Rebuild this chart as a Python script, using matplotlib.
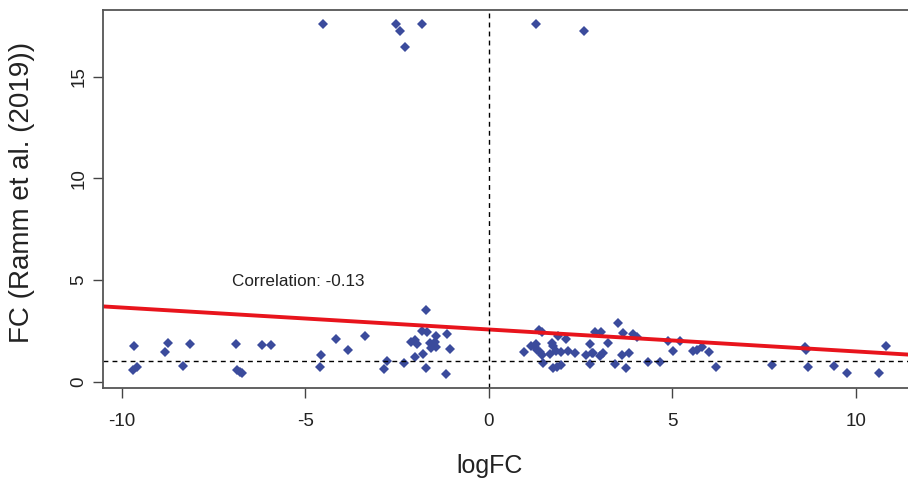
import numpy as np
import matplotlib
matplotlib.use("Agg")
import matplotlib.pyplot as plt

# values
log_fc = [
    -9.67, -9.69, -9.58, -8.74, -8.81, -8.33, -8.15, -6.89, -6.87, -6.78,
    -6.72, -6.19, -5.92, -4.60, -4.58, -4.15, -3.83, -3.36, -2.85, -2.77,
    -2.31, -2.13, -2.02, -1.95, -2.02, -1.80, -1.83, -1.68, -1.72, -1.70,
    -1.61, -1.47, -1.43, -1.56, -1.44, -1.13, -1.05, -1.16,
    0.96, 1.16, 1.25, 1.32, 1.39, 1.46, 1.30, 1.37, 1.44, 1.48,
    1.71, 1.75, 1.66, 1.84, 1.98, 2.16, 2.34, 1.89, 2.10, 1.74,
    1.85, 1.96, 2.66, 2.75, 2.80, 2.75, 2.89, 3.07, 2.84, 3.11,
    3.02, 3.25, 3.51, 3.43, 3.66, 3.62, 3.75, 3.82, 3.92, 4.03,
    4.34, 4.66, 4.89, 5.01, 5.20, 5.57, 5.68, 5.80, 5.99, 6.19,
    7.72, 8.61, 8.64, 8.70, 9.41, 9.75, 10.63, 10.82,
    -4.52, -2.53, -2.42, -1.83, -2.29, 1.28, 2.59,
]
fc_ramm = [
    1.77, 0.59, 0.70, 1.89, 1.44, 0.77, 1.84, 1.86, 0.59, 0.49,
    0.41, 1.79, 1.81, 0.74, 1.32, 2.09, 1.56, 2.23, 0.63, 1.01,
    0.92, 1.96, 2.03, 1.86, 1.20, 1.38, 2.48, 2.43, 3.53, 0.67,
    1.92, 1.94, 1.71, 1.66, 2.27, 2.33, 1.61, 0.38,
    1.48, 1.77, 1.69, 1.56, 1.44, 1.33, 1.86, 2.55, 2.46, 0.93,
    1.91, 1.77, 1.36, 1.53, 1.48, 1.49, 1.39, 2.27, 2.10, 0.67,
    0.74, 0.82, 1.33, 1.86, 1.39, 0.87, 2.43, 2.46, 1.39, 1.39,
    1.28, 1.89, 2.88, 0.86, 2.41, 1.33, 0.69, 1.39, 2.33, 2.22,
    0.99, 0.99, 2.00, 1.53, 2.00, 1.53, 1.58, 1.72, 1.45, 0.74,
    0.82, 1.72, 1.55, 0.74, 0.79, 0.43, 0.44, 1.74,
    17.6, 17.6, 17.25, 17.6, 16.45, 17.6, 17.25,
]

# regression line (abline of lm)
fit_intercept = 2.57
fit_slope = -0.108
corr_label = "Correlation: -0.13"

plt.rcParams['font.family'] = ['Liberation Sans', 'DejaVu Sans']
plt.rcParams['axes.unicode_minus'] = False

fig = plt.figure(figsize=(9.08, 4.83), dpi=100)
ax = fig.add_axes([0.1134, 0.1967, 0.8954, 0.7826])

x = np.array(log_fc)
y = np.array(fc_ramm)

ax.plot(x, y, linestyle='none', marker='D', markersize=4.9,
        color='#3b4b9c', markeredgewidth=0)

ax.axline((0, fit_intercept), slope=fit_slope, color='#e8141c', lw=2.8)
ax.axvline(0, color='black', lw=1, linestyle=(0, (3.5, 3)))
ax.axhline(1, color='black', lw=1, linestyle=(0, (3.5, 3)))

ax.text(-5.2, 4.93, corr_label, ha='center', va='center', fontsize=12.3,
        color='#222222')

# R style 4% axis extension
xr = x.max() - x.min()
yr = y.max() - y.min()
ax.set_xlim(x.min() - 0.04 * xr, x.max() + 0.04 * xr)
ax.set_ylim(y.min() - 0.04 * yr, y.max() + 0.04 * yr)

ax.set_xticks([-10, -5, 0, 5, 10])
ax.set_yticks([0, 5, 10, 15])
ax.tick_params(axis='both', direction='out', length=7, width=1,
               color='#444444', labelsize=13.5, labelcolor='#222222')
ax.tick_params(axis='x', pad=11)
ax.tick_params(axis='y', pad=4, labelrotation=90)
for lab in ax.get_yticklabels():
    lab.set_va('center')

for side in ['left', 'bottom', 'top', 'right']:
    ax.spines[side].set_color('#555555')
    ax.spines[side].set_linewidth(1.3)

ax.set_xlabel('logFC', fontsize=18, color='#222222', va='center')
ax.set_ylabel('FC (Ramm et al. (2019))', fontsize=20, color='#222222',
              va='center')
# logFC sits under the zero line, the y label in the left margin
ax.xaxis.set_label_coords((490 - 103) / 813, -(466 - 388) / 378)
ax.yaxis.set_label_coords(-(103 - 22) / 813, (388 - 192) / 378)

fig.savefig('out.png', dpi=100)
